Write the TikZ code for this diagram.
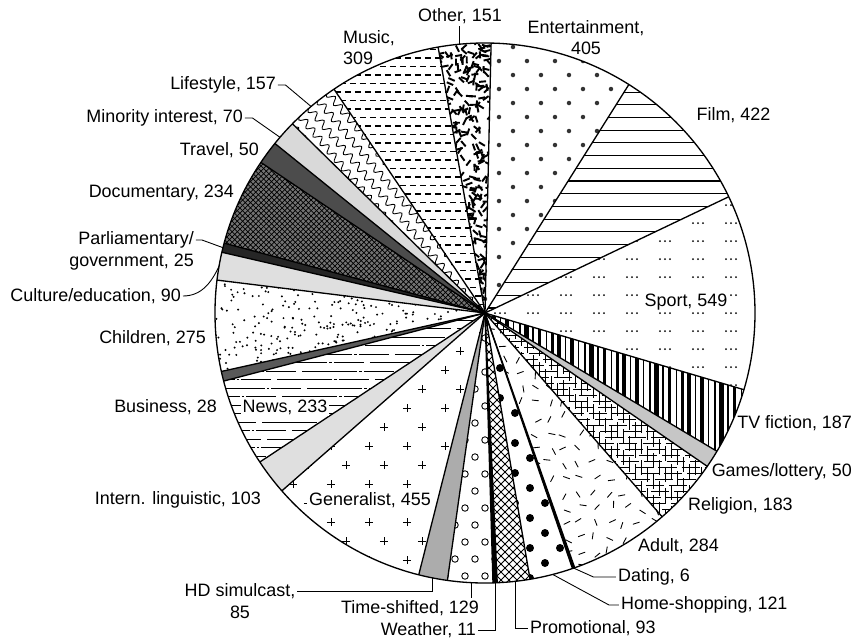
\documentclass[tikz,border=0pt]{standalone}
\usepackage{fontspec}
\setmainfont{Liberation Sans}
\usepackage{tikz}
\usetikzlibrary{patterns,decorations.pathmorphing,positioning}
\newcommand{\pieR}{5.4}
\newcommand{\pieclip}[2]{\clip (0,0) -- (#1:\pieR) arc[start angle=#1, end angle=#2, radius=\pieR] -- cycle;}
\newcommand{\piefill}[3]{\fill[#1] (0,0) -- (#2:\pieR) arc[start angle=#2, end angle=#3, radius=\pieR] -- cycle;}

\begin{document}
\begin{tikzpicture}[
	lbl/.style={font=\fontsize{10.2}{12.4}\selectfont, inner sep=1pt, align=center},
	inlbl/.style={lbl, fill=white},
	lead/.style={line width=0.5pt},
	rim/.style={line width=0.75pt}
]
\useasboundingbox (-9.7,-6.6) rectangle (7.44,6.26);

%Entertainment
\begin{scope}
\pieclip{88.7}{57.8}
\foreach \x in {-0.28,0.28,...,5.6}
	\foreach \y in {0,0.56,...,5.6}
		{\fill[black!80] (\x,\y) circle (0.045); \fill[black!80] (\x+0.28,\y+0.28) circle (0.045);}
\end{scope}
%Film
\begin{scope}
\pieclip{57.8}{25.5}
\foreach \y in {0.1,0.354,...,5.5} \draw[line width=0.6pt] (0,\y) -- (5.5,\y);
\end{scope}
%Sport
\begin{scope}
\pieclip{25.5}{-16.5}
\foreach \x in {0.2,0.86,...,5.5}
	\foreach \y in {-1.8,-1.44,...,2.6}
		{\foreach \d in {0,0.1,0.2} \fill (\x+\d,\y) circle (0.02);}
\end{scope}
%TV fiction
\begin{scope}
\pieclip{-16.5}{-30.8}
\foreach \x [count=\k] in {0.05,0.18,...,5.5}
	{\pgfmathsetmacro\lw{0.3+0.5*mod(\k*7,5)} \draw[line width=\lw pt] (\x,-3) -- (\x,0);}
\end{scope}
\piefill{gray!45}{-30.8}{-34.6}
%Religion
\begin{scope}
\pieclip{-34.6}{-49.0}
\foreach \y [count=\k] in {-4.4,-4.28,...,0}
	{\pgfmathsetmacro\ph{0.07*mod(\k*13,9)} \draw[line width=0.5pt, dash pattern=on 0.36cm off 0.1cm, dash phase=\ph cm] (0,\y) -- (4.6,\y);}
\foreach \x [count=\k] in {0,0.12,...,4.6}
	{\pgfmathsetmacro\ph{0.07*mod(\k*11,9)} \draw[line width=0.5pt, dash pattern=on 0.3cm off 0.12cm, dash phase=\ph cm] (\x,-4.5) -- (\x,0);}
\end{scope}
%Adult
\begin{scope}
\pieclip{-49.0}{-70.6}
\pgfmathsetseed{7}
\foreach \x in {0.1,0.4,...,3.8}
	\foreach \y in {-5.4,-5.1,...,0}
		{\pgfmathsetmacro\ax{\x+0.08*rand} \pgfmathsetmacro\ay{\y+0.08*rand} \pgfmathsetmacro\aa{180*rnd}
		\draw[line width=0.5pt] (\ax,\ay) ++(\aa:0.07) -- ++(\aa+180:0.14);}
\end{scope}
\piefill{black}{-70.6}{-71.1}
%Home-shopping
\begin{scope}
\pieclip{-71.1}{-80.4}
\foreach \x in {0,0.6,...,2.4}
	\foreach \y in {-5.6,-5.0,...,0}
		{\fill (\x,\y) circle (0.08); \fill (\x+0.3,\y+0.3) circle (0.08);}
\end{scope}
%Promotional
\begin{scope}
\pieclip{-80.4}{-87.4}
\foreach \t in {-5.6,-5.44,...,1} \draw[line width=0.5pt] (\t,-5.5) -- ++(5.5,5.5);
\foreach \t in {0,0.16,...,6.5} \draw[line width=0.5pt] (\t,-5.5) -- ++(-5.5,5.5);
\end{scope}
\piefill{black}{-87.4}{-88.3}
%Time-shifted
\begin{scope}
\pieclip{-88.3}{-98.0}
\foreach \x in {-1.0,-0.6,...,0.4}
	\foreach \y in {-5.6,-4.92,...,0}
		{\draw[line width=0.5pt] (\x,\y) circle (0.065); \draw[line width=0.5pt] (\x+0.2,\y+0.34) circle (0.065);}
\end{scope}
\piefill{gray!65}{-98.0}{-104.2}
%Generalist
\begin{scope}
\pieclip{-104.2}{-138.8}
\foreach \x in {-4.6,-3.84,...,0}
	\foreach \y in {-5.7,-4.94,...,0}
		{\draw[line width=0.5pt] (\x-0.08,\y) -- (\x+0.08,\y) (\x,\y-0.08) -- (\x,\y+0.08);
		\draw[line width=0.5pt] (\x+0.3,\y+0.38) ++(-0.08,0) -- ++(0.16,0) (\x+0.3,\y+0.38) ++(0,-0.08) -- ++(0,0.16);}
\end{scope}
\piefill{gray!25}{-138.8}{-146.5}
%News
\begin{scope}
\pieclip{-146.5}{-165.4}
\foreach \y [count=\k] in {-3.2,-3.03,...,0.2}
	{\pgfmathsetmacro\ph{0.1*mod(\k*17,11)} \draw[line width=0.5pt, dash pattern=on 1.1cm off 0.04cm on 0.05cm off 0.04cm on 0.6cm off 0.12cm, dash phase=\ph cm] (-5.5,\y) -- (0,\y);}
\end{scope}
\piefill{black!65}{-165.4}{-167.5}
%Children
\begin{scope}
\pieclip{-167.5}{-187.0}
\pgfmathsetseed{21}
\foreach \i in {1,...,420}
	{\pgfmathsetmacro\cx{-5.5*rnd} \pgfmathsetmacro\cy{-1.25+2.0*rnd} \fill (\cx,\cy) circle (0.022);}
\end{scope}
\piefill{gray!25}{-187.0}{-193.0}
\piefill{black!85}{-193.0}{-195.0}
%Documentary
\piefill{black!55}{-195.0}{-213.9}
\piefill{pattern=crosshatch, pattern color=black}{-195.0}{-213.9}
\piefill{black!70}{-213.9}{-218.9}
\piefill{gray!30}{-218.9}{-224.5}
%Lifestyle
\begin{scope}
\pieclip{-224.5}{-236.0}
\begin{scope}[rotate=130]
\foreach \y in {-0.9,-0.66,...,0.9}
	\draw[line width=0.5pt, decorate, decoration={snake, segment length=0.22cm, amplitude=0.07cm}] (0,\y) -- (5.8,\y);
\end{scope}
\end{scope}
%Music
\begin{scope}
\pieclip{-236.0}{-260.0}
\foreach \y [count=\k] in {0,0.17,...,5.5}
	{\pgfmathsetmacro\ph{0.1*mod(\k,2)} \draw[line width=0.6pt, dash pattern=on 0.12cm off 0.08cm, dash phase=\ph cm] (-3.3,\y) -- (0.1,\y);}
\end{scope}
%Other
\begin{scope}
\pieclip{-260.0}{-271.3}
\pgfmathsetseed{5}
\foreach \i in {1,...,520}
	{\pgfmathsetmacro\ox{-1.2+1.4*rnd} \pgfmathsetmacro\oy{5.6*rnd} \pgfmathsetmacro\oa{180*rnd}
	\draw[line width=1.1pt] (\ox,\oy) ++(\oa:0.07) -- ++(\oa+180:0.14);}
\end{scope}

\draw[rim] (0,0) circle (\pieR);
\foreach \a in {88.7,57.8,25.5,-16.5,-30.8,-34.6,-49.0,-70.6,-71.1,-80.4,-87.4,-88.3,-98.0,-104.2,-138.8,-146.5,-165.4,-167.5,-187.0,-193.0,-195.0,-213.9,-218.9,-224.5,-236.0,-260.0}
	\draw[rim] (0,0) -- (\a:\pieR);

\node[lbl] (lOther) at (-0.5,5.94) {Other, 151};
\node[lbl, align=left, anchor=west] (lMusic) at (-2.88,5.31) {Music,\\309};
\node[lbl] (lEnt) at (2.02,5.51) {Entertainment,\\405};
\node[lbl] (lFilm) at (4.97,3.96) {Film, 422};
\node[inlbl] (lSport) at (4.02,0.22) {Sport, 549};
\node[lbl, anchor=east] (lTV) at (7.38,-2.2) {TV fiction, 187};
\node[lbl, anchor=east] (lGames) at (7.38,-3.18) {Games/lottery, 50};
\node[lbl, anchor=west] (lRel) at (4.02,-3.86) {Religion, 183};
\node[lbl, anchor=west] (lAdult) at (3.02,-4.66) {Adult, 284};
\node[lbl, anchor=west] (lDating) at (2.62,-5.28) {Dating, 6};
\node[lbl, anchor=west] (lHome) at (2.68,-5.84) {Home-shopping, 121};
\node[lbl, anchor=west] (lPromo) at (0.86,-6.3) {Promotional, 93};
\node[lbl, anchor=east] (lWeather) at (-0.14,-6.34) {Weather, 11};
\node[lbl] (lTime) at (-1.5,-5.9) {Time-shifted, 129};
\node[lbl] (lHD) at (-4.9,-5.56) {HD simulcast,};
\node[lbl, below=2pt of lHD] (lHDn) {85};
\node[inlbl] (lGen) at (-2.3,-3.74) {Generalist, 455};
\node[lbl, anchor=east] (lIntern) at (-4.44,-3.74) {Intern. linguistic, 103};
\node[inlbl] (lNews) at (-4.0,-1.88) {News, 233};
\node[lbl, anchor=east] (lBus) at (-5.32,-1.88) {Business, 28};
\node[lbl, anchor=east] (lChild) at (-5.54,-0.5) {Children, 275};
\node[lbl, anchor=east] (lCult) at (-6.04,0.34) {Culture/education, 90};
\node[lbl, anchor=east] (lParl) at (-5.78,1.46) {Parliamentary/};
\node[lbl, anchor=east] (lGov) at (-5.78,1.02) {government, 25};
\node[lbl, anchor=east] (lDoc) at (-4.98,2.4) {Documentary, 234};
\node[lbl, anchor=east] (lTravel) at (-4.48,3.26) {Travel, 50};
\node[lbl, anchor=east] (lMin) at (-4.8,3.9) {Minority interest, 70};
\node[lbl, anchor=east] (lLife) at (-4.14,4.56) {Lifestyle, 157};

\coordinate (pOther) at (95.5:\pieR);
\coordinate (pDating) at (-70.85:\pieR);
\coordinate (pHome) at (-75.5:\pieR);
\coordinate (pPromo) at (-83.6:\pieR);
\coordinate (pWeather) at (-87.85:\pieR);
\coordinate (pTime) at (-92.8:\pieR);
\coordinate (pHD) at (-101.3:\pieR);
\coordinate (pCult) at (170:\pieR);
\coordinate (pParl) at (166:\pieR);
\coordinate (pMin) at (139.4:\pieR);
\coordinate (pLife) at (130.1:\pieR);

\draw[lead] (pOther) -- (pOther |- lOther.south);
\draw[lead] (pDating) -- ([xshift=-0.45cm]lDating.west) -- (lDating.west);
\draw[lead] (pHome) -- ([xshift=-0.2cm]lHome.west) -- (lHome.west);
\draw[lead] (pPromo) |- (lPromo.west);
\draw[lead] (pWeather) |- (lWeather.east);
\draw[lead] (pTime) -- (pTime |- lTime.north);
\draw[lead] (pHD) |- (lHD.east);
\draw[lead] (lCult.east) to[out=0, in=-115] (pCult);
\draw[lead] (lParl.east) -- ++(0.12,0) -- (pParl);
\draw[lead] (lMin.east) -- ++(0.15,0) -- (pMin);
\draw[lead] (lLife.east) -- ++(0.15,0) -- (pLife);
\end{tikzpicture}
\end{document}
